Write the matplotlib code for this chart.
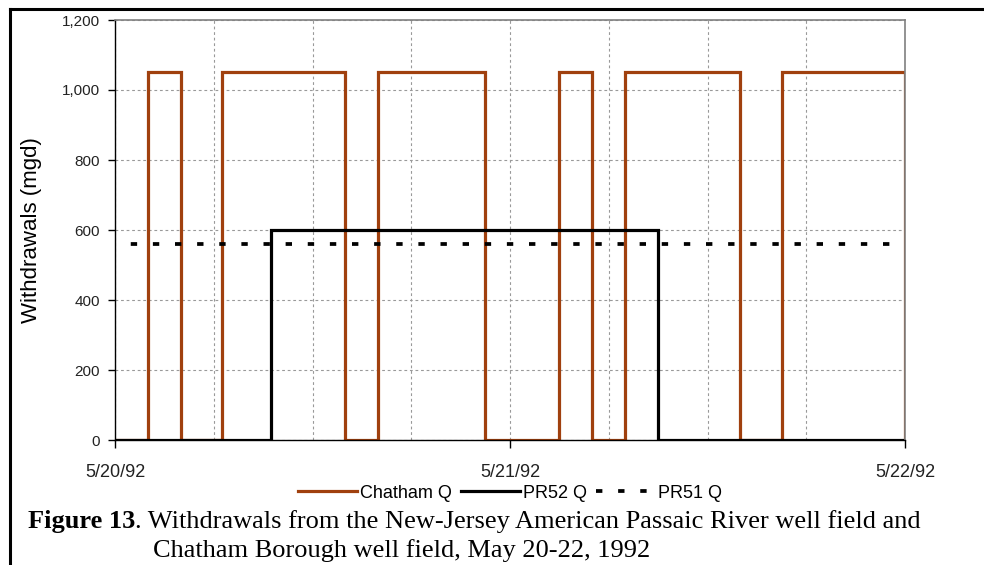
import numpy as np
import matplotlib
matplotlib.use("Agg")
import matplotlib.pyplot as plt
from matplotlib.lines import Line2D

plt.rcParams['font.family'] = ['Liberation Sans', 'DejaVu Sans']

# hours after 5/20/92 00:00
chatham_hours = [0, 2, 4, 6.5, 14, 16, 22.5, 27, 29, 31, 38, 40.5, 48]
chatham_q = [0, 1050, 0, 1050, 0, 1050, 0, 1050, 0, 1050, 0, 1050, 0]
pr52_hours = [0, 9.5, 33, 48]
pr52_q = [0, 600, 0, 0]
pr51_hours = [0, 48]
pr51_q = [560, 560]

x_ticks = [0, 24, 48]
x_ticklabels = ["5/20/92", "5/21/92", "5/22/92"]
y_ticks = [0, 200, 400, 600, 800, 1000, 1200]
y_ticklabels = ["0", "200", "400", "600", "800", "1,000", "1,200"]

W, H = 984, 565
fig = plt.figure(figsize=(W / 100, H / 100), dpi=100)
ax = fig.add_axes([115 / W, 1 - 440 / H, 790 / W, 420 / H])

brown = '#A0400E'
h1, = ax.plot(chatham_hours, chatham_q, drawstyle='steps-post', color=brown, lw=2.3,
              label='Chatham Q', solid_joinstyle='miter')
h2, = ax.plot(pr52_hours, pr52_q, drawstyle='steps-post', color='black', lw=2.3,
              label='PR52 Q', solid_joinstyle='miter')
ax.plot(pr51_hours, pr51_q, color='black', lw=2.7, dash_capstyle='butt',
        linestyle=(1.7, (1.7, 4.2)))
# legend proxy for PR51 (pattern starts with a dash, like the original)
h3 = Line2D([], [], color='black', lw=2.7, dash_capstyle='butt',
            linestyle=(0, (1.7, 4.2)), label='PR51 Q')

ax.set_xlim(0, 48)
ax.set_ylim(0, 1200)
ax.set_xticks(x_ticks)
ax.set_xticklabels(x_ticklabels, fontsize=13, color='#222222')
ax.set_xticks(np.arange(6, 48, 6), minor=True)
ax.set_yticks(y_ticks)
ax.set_yticklabels(y_ticklabels, fontsize=11, color='#222222')

ax.tick_params(axis='x', which='major', length=6, width=1, pad=11, direction='out')
ax.tick_params(axis='x', which='minor', length=0)
ax.tick_params(axis='y', length=5, width=1, pad=6, direction='out')

ax.grid(True, which='both', axis='x', color='#999999', linestyle=(0, (2.5, 2.5)), lw=0.8)
ax.grid(True, which='major', axis='y', color='#999999', linestyle=(0, (2.5, 2.5)), lw=0.8)
ax.set_axisbelow(True)

for s in ['top', 'right']:
    ax.spines[s].set_color('#808080')
    ax.spines[s].set_linewidth(1.2)
for s in ['left', 'bottom']:
    ax.spines[s].set_color('black')
    ax.spines[s].set_linewidth(1.0)

ax.set_ylabel('Withdrawals (mgd)', fontsize=16)
ax.yaxis.set_label_coords(-73 / 790, 0.5)

ax.legend(handles=[h1, h2, h3], loc='center', bbox_to_anchor=(0.5, (440 - 493) / 420),
          ncol=3, frameon=False, fontsize=13, handlelength=3.3, handletextpad=0.15,
          columnspacing=0.5, borderpad=0)

# frame around the figure (left and top edges)
fig.add_artist(Line2D([10 / W, 10 / W], [0, 1 - 9 / H], color='black', lw=2.2,
                      transform=fig.transFigure, solid_capstyle='projecting'))
fig.add_artist(Line2D([10 / W, 1], [1 - 9 / H, 1 - 9 / H], color='black', lw=2.2,
                      transform=fig.transFigure, solid_capstyle='projecting'))

# caption
serif = ['Liberation Serif', 'DejaVu Serif']
t1 = fig.text(28 / W, 1 - 528 / H, 'Figure 13', fontsize=19, fontweight='bold',
              family=serif, va='baseline', ha='left')
fig.canvas.draw()
bb = t1.get_window_extent(fig.canvas.get_renderer())
fig.text(bb.x1 / W, 1 - 528 / H,
         '. Withdrawals from the New-Jersey American Passaic River well field and',
         fontsize=19, family=serif, va='baseline', ha='left')
fig.text(153 / W, 1 - 557 / H, 'Chatham Borough well field, May 20-22, 1992',
         fontsize=19, family=serif, va='baseline', ha='left')

fig.savefig('out.png', dpi=100)
